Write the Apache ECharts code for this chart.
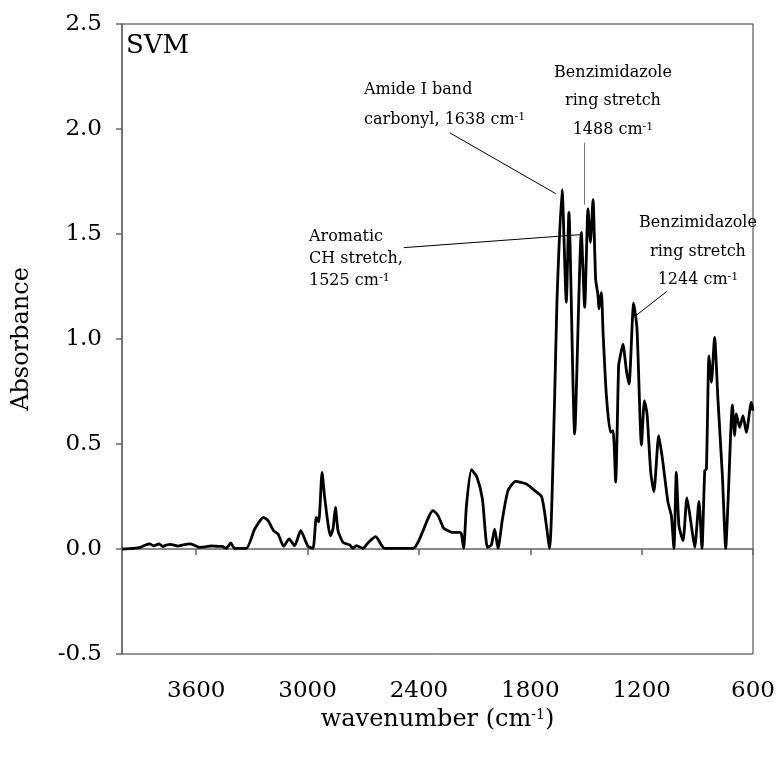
<!DOCTYPE html>
<html>
<head>
<meta charset="utf-8">
<script src="https://cdn.jsdelivr.net/npm/echarts@6/dist/echarts.min.js"></script>
<style>
    html, body { margin: 0; padding: 0; background: #fff; }
    #chart { width: 781px; height: 762px; }
</style>
</head>
<body>
<div id="chart"></div>
<script>
// IR spectrum, SVM sample
const wavenumbers = [
    3998, 3941, 3900, 3870, 3851, 3830, 3800, 3780, 3761, 3740, 3700, 3670, 3635, 3610, 3581, 3550, 3520, 3491, 3460, 3438,
    3414, 3393, 3330, 3285, 3237, 3213, 3183, 3159, 3129, 3100, 3070, 3037, 2998, 2971, 2953, 2940, 2922, 2908, 2877, 2863,
    2850, 2836, 2809, 2773, 2755, 2737, 2701, 2675, 2633, 2585, 2432, 2324, 2297, 2270, 2261, 2217, 2180, 2171, 2159, 2144,
    2117, 2087, 2058, 2031, 2010, 1992, 1974, 1950, 1920, 1879, 1821, 1776, 1740, 1723, 1696, 1669, 1656, 1629, 1606, 1592,
    1561, 1525, 1507, 1489, 1476, 1462, 1448, 1435, 1430, 1417, 1408, 1390, 1368, 1354, 1340, 1324, 1315, 1301, 1282, 1268,
    1243, 1225, 1201, 1185, 1171, 1151, 1134, 1108, 1088, 1058, 1040, 1026, 1013, 999, 977, 956, 932, 914, 891, 875,
    860, 851, 837, 824, 807, 789, 765, 747, 735, 711, 699, 690, 672, 654, 636, 609, 600
];
const absorbance = [
    0.000, 0.003, 0.008, 0.020, 0.024, 0.015, 0.024, 0.012, 0.019, 0.022, 0.014, 0.020, 0.024, 0.018, 0.008, 0.010, 0.015, 0.013, 0.012, 0.003,
    0.029, 0.003, 0.003, 0.095, 0.151, 0.135, 0.087, 0.071, 0.013, 0.048, 0.016, 0.087, 0.013, 0.003, 0.151, 0.129, 0.365, 0.246, 0.063, 0.095,
    0.198, 0.087, 0.032, 0.019, 0.003, 0.016, 0.003, 0.029, 0.059, 0.003, 0.003, 0.183, 0.159, 0.103, 0.095, 0.079, 0.079, 0.071, 0.003, 0.206,
    0.378, 0.341, 0.238, 0.008, 0.019, 0.095, 0.003, 0.143, 0.278, 0.322, 0.310, 0.278, 0.251, 0.175, 0.003, 0.714, 1.190, 1.711, 1.175, 1.603,
    0.548, 1.508, 1.151, 1.619, 1.460, 1.663, 1.286, 1.206, 1.143, 1.222, 1.032, 0.730, 0.556, 0.563, 0.318, 0.873, 0.920, 0.976, 0.849, 0.786,
    1.171, 1.048, 0.495, 0.706, 0.643, 0.365, 0.273, 0.540, 0.429, 0.222, 0.159, 0.003, 0.365, 0.111, 0.040, 0.243, 0.111, 0.008, 0.227, 0.003,
    0.373, 0.381, 0.920, 0.794, 1.008, 0.714, 0.349, 0.003, 0.214, 0.686, 0.540, 0.643, 0.579, 0.635, 0.556, 0.698, 0.659
];
const xTicks = [600, 1200, 1800, 2400, 3000, 3600];
// leader lines [wavenumber, absorbance] from label to band
const leaders = [
    [[2234, 1.982], [1663, 1.692]],
    [[1507, 1.934], [1507, 1.639]],
    [[2482, 1.435], [1528, 1.497]],
    [[1065, 1.226], [1232, 1.111]]
];

const FONT = '"DejaVu Serif", "Liberation Serif", serif';
const seriesData = wavenumbers.map((w, i) => [w, absorbance[i]]);

const sup = { fontSize: 11, fontFamily: FONT, color: '#000', verticalAlign: 'top', padding: [0, 0, 6, 0] };
function note(str, x, y, align) {
    return {
        type: 'text',
        left: align === 'center' ? undefined : x,
        x: align === 'center' ? x : undefined,
        y: y,
        style: {
            text: str,
            font: '16px ' + FONT,
            fill: '#000',
            align: align === 'center' ? 'center' : 'left',
            verticalAlign: 'middle',
            rich: { n: { fontSize: 16, fontFamily: FONT, color: '#000' }, s: sup }
        }
    };
}

const echart = echarts.init(document.getElementById('chart'));
const option = {
    animation: false,
    backgroundColor: '#fff',
    grid: {
        show: true,
        left: 122,
        right: 28,
        top: 24,
        bottom: 108,
        borderColor: '#333',
        borderWidth: 1
    },
    xAxis: {
        type: 'value',
        inverse: true,
        min: 600,
        max: 4000,
        interval: 600,
        name: 'wavenumber (cm{s|-1})',
        nameLocation: 'middle',
        nameGap: 52,
        nameTextStyle: {
            fontFamily: FONT,
            fontSize: 24,
            color: '#000',
            rich: { s: { fontSize: 14, fontFamily: FONT, color: '#000', verticalAlign: 'top', padding: [0, 0, 8, 0] } }
        },
        axisLine: { show: true, lineStyle: { color: '#666', width: 1.5 } },
        axisTick: { show: true, inside: false, length: 6, customValues: xTicks, lineStyle: { color: '#666', width: 1.5 } },
        axisLabel: {
            showMaxLabel: false,
            margin: 26,
            color: '#000',
            fontFamily: FONT,
            fontSize: 23,
            formatter: v => (xTicks.indexOf(v) >= 0 ? String(v) : '')
        },
        splitLine: { show: false }
    },
    yAxis: {
        type: 'value',
        min: -0.5,
        max: 2.5,
        interval: 0.5,
        name: 'Absorbance',
        nameLocation: 'middle',
        nameGap: 88,
        nameTextStyle: { fontFamily: FONT, fontSize: 24, color: '#000' },
        axisLine: { show: true, lineStyle: { color: '#666', width: 1.5 } },
        axisTick: { show: true, inside: false, length: 6, lineStyle: { color: '#666', width: 1.5 } },
        axisLabel: {
            margin: 20,
            color: '#000',
            fontFamily: FONT,
            fontSize: 23,
            formatter: v => v.toFixed(1)
        },
        splitLine: { show: false }
    },
    series: [
        {
            type: 'line',
            data: seriesData,
            showSymbol: false,
            smooth: 0.2,
            lineStyle: { color: '#000', width: 2.8 },
            markLine: {
                silent: true,
                symbol: ['none', 'none'],
                label: { show: false },
                lineStyle: { color: '#000', width: 1, type: 'solid' },
                data: leaders.map((l, i) => [
                    { coord: l[0], lineStyle: i === 1 ? { color: '#777' } : undefined },
                    { coord: l[1] }
                ])
            }
        }
    ],
    graphic: [
        {
            type: 'text',
            left: 126,
            top: 33,
            style: { text: 'SVM', font: '26px ' + FONT, fill: '#000' }
        },
        note('Amide I band', 364, 90),
        note('carbonyl, 1638 cm{s|-1}', 364, 120),
        note('Benzimidazole', 613, 73, 'center'),
        note('ring stretch', 613, 101, 'center'),
        note('1488 cm{s|-1}', 613, 130, 'center'),
        note('Aromatic', 309, 237),
        note('CH stretch,', 309, 259),
        note('1525 cm{s|-1}', 309, 281),
        note('Benzimidazole', 698, 223, 'center'),
        note('ring stretch', 698, 252, 'center'),
        note('1244 cm{s|-1}', 698, 280, 'center')
    ]
};
echart.setOption(option);
</script>
</body>
</html>
